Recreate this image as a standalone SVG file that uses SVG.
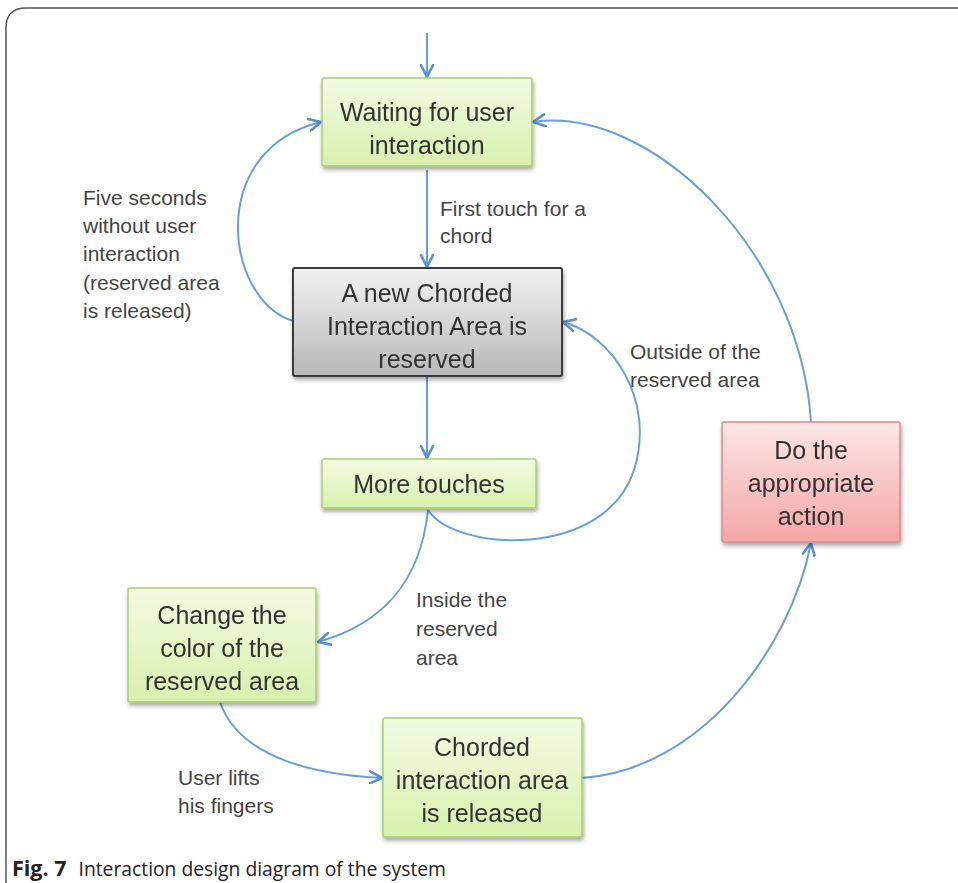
<svg xmlns="http://www.w3.org/2000/svg" width="958" height="883" viewBox="0 0 958 883">
<defs>
<linearGradient id="gGreen" x1="0" y1="0" x2="0" y2="1">
<stop offset="0" stop-color="#f3fbe3"/><stop offset="1" stop-color="#d8f0ae"/>
</linearGradient>
<linearGradient id="gGray" x1="0" y1="0" x2="0" y2="1">
<stop offset="0" stop-color="#f2f2f2"/><stop offset="1" stop-color="#b8b8b8"/>
</linearGradient>
<linearGradient id="gRed" x1="0" y1="0" x2="0" y2="1">
<stop offset="0" stop-color="#fde6e6"/><stop offset="1" stop-color="#f4a6a6"/>
</linearGradient>
<filter id="sh" x="-10%" y="-10%" width="125%" height="130%">
<feGaussianBlur in="SourceAlpha" stdDeviation="2"/>
<feOffset dx="1" dy="3" result="o"/>
<feComponentTransfer><feFuncA type="linear" slope="0.35"/></feComponentTransfer>
<feMerge><feMergeNode/><feMergeNode in="SourceGraphic"/></feMerge>
</filter>
<marker id="arr" viewBox="0 0 14 14" refX="13" refY="7" markerWidth="14" markerHeight="14" markerUnits="userSpaceOnUse" orient="auto">
<path d="M1,1 L13,7 L1,13" fill="none" stroke="#5a8fd0" stroke-width="2.6" stroke-linecap="round" stroke-linejoin="round"/>
</marker>
</defs>
<style>
.green{fill:url(#gGreen);stroke:#a8cf6c;stroke-width:1.5}
.gray{fill:url(#gGray);stroke:#3a3a3a;stroke-width:2}
.red{fill:url(#gRed);stroke:#d98a8a;stroke-width:1.5}
.bt{font-family:"Liberation Sans",Arial,sans-serif;font-size:25px;fill:#333;text-anchor:middle}
.lb{font-family:"Liberation Sans",Arial,sans-serif;font-size:21px;fill:#444}
.con{fill:none;stroke:#6a9ed8;stroke-width:2;marker-end:url(#arr)}
</style>
<rect width="958" height="883" fill="#fff"/>
<path d="M6,883 L6,28 Q6,8 26,8 L958,8" fill="none" stroke="#555" stroke-width="1.5"/>

<g id="connectors">
<path class="con" d="M427,33 L427,77"/>
<path class="con" d="M427,170 L427,267"/>
<path class="con" d="M293,321 C225,300 205,150 321,122"/>
<path class="con" d="M427,377 L427,458"/>
<path class="con" d="M428,510 C455,552 605,560 634,470 C656,400 612,335 563,322"/>
<path class="con" d="M428,510 C420,585 380,625 318,642"/>
<path class="con" d="M220,702 C240,760 320,775 382,778"/>
<path class="con" d="M582,778 C700,770 790,650 811,543"/>
<path class="con" d="M811,422 C800,250 650,105 533,122"/>
</g>

<g id="n1" filter="url(#sh)">
<rect class="green" x="322" y="78" width="210" height="88" rx="2"/>
<text class="bt" x="427" y="121">Waiting for user</text>
<text class="bt" x="427" y="154">interaction</text>
</g>
<g id="n2" filter="url(#sh)">
<rect class="gray" x="293" y="268" width="269" height="108" rx="2"/>
<text class="bt" x="427" y="302">A new Chorded</text>
<text class="bt" x="427" y="335">Interaction Area is</text>
<text class="bt" x="427" y="368">reserved</text>
</g>
<g id="n3" filter="url(#sh)">
<rect class="green" x="322" y="459" width="214" height="49" rx="2"/>
<text class="bt" x="429" y="493">More touches</text>
</g>
<g id="n4" filter="url(#sh)">
<rect class="red" x="722" y="422" width="178" height="120" rx="2"/>
<text class="bt" x="811" y="459">Do the</text>
<text class="bt" x="811" y="492">appropriate</text>
<text class="bt" x="811" y="525">action</text>
</g>
<g id="n5" filter="url(#sh)">
<rect class="green" x="128" y="588" width="188" height="114" rx="2"/>
<text class="bt" x="222" y="624">Change the</text>
<text class="bt" x="222" y="657">color of the</text>
<text class="bt" x="222" y="690">reserved area</text>
</g>
<g id="n6" filter="url(#sh)">
<rect class="green" x="383" y="718" width="199" height="119" rx="2"/>
<text class="bt" x="482" y="756">Chorded</text>
<text class="bt" x="482" y="789">interaction area</text>
<text class="bt" x="482" y="822">is released</text>
</g>

<g id="labels">
<text class="lb" x="440" y="216">First touch for a</text>
<text class="lb" x="440" y="243">chord</text>
<text class="lb" x="83" y="205">Five seconds</text>
<text class="lb" x="83" y="233">without user</text>
<text class="lb" x="83" y="261">interaction</text>
<text class="lb" x="83" y="290">(reserved area</text>
<text class="lb" x="83" y="318">is released)</text>
<text class="lb" x="630" y="359">Outside of the</text>
<text class="lb" x="630" y="387">reserved area</text>
<text class="lb" x="416" y="607">Inside the</text>
<text class="lb" x="416" y="636">reserved</text>
<text class="lb" x="416" y="665">area</text>
<text class="lb" x="178" y="785">User lifts</text>
<text class="lb" x="178" y="813">his fingers</text>
</g>

<g id="caption">
<text x="12" y="876" font-family="'Open Sans','Liberation Sans',sans-serif" font-size="19.3" fill="#222"><tspan font-weight="bold" font-size="21.5">Fig. 7</tspan><tspan dx="12">Interaction design diagram of the system</tspan></text>
</g>
</svg>
